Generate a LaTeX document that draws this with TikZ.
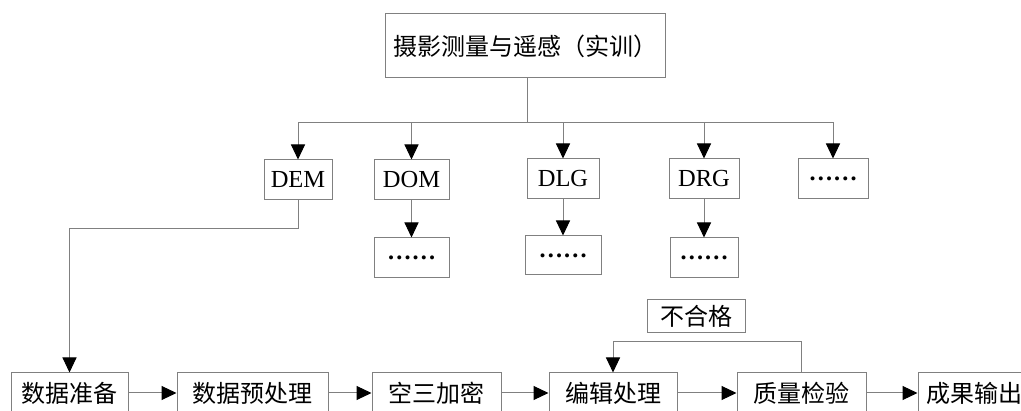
\documentclass[tikz,border=0pt]{standalone}
\usepackage{fontspec}
\setmainfont{Liberation Serif}
\newfontfamily\cjk{Noto Sans CJK SC}
\usetikzlibrary{arrows.meta}
\begin{document}
\begin{tikzpicture}[x=1pt,y=-1pt,
  box/.style={draw=black!50, line width=1pt, inner sep=0pt, font=\fontsize{24.5}{24.5}\selectfont},
  cbox/.style={box, font=\cjk\fontsize{24}{24}\selectfont},
  ln/.style={draw=black!50, line width=1pt},
  arr/.style={ln, -{Triangle[length=15pt,width=14pt,color=black]}}]
\useasboundingbox (0,0) rectangle (1021,411);
\clip (0,0) rectangle (1021,411);
\node[cbox, minimum width=280pt, minimum height=64pt] (top) at (525,46) {摄影测量与遥感（实训）};
\node[box, minimum width=68pt, minimum height=40pt] (dem) at (298,180) {DEM};
\node[box, minimum width=75pt, minimum height=40pt] (dom) at (411.5,180) {DOM};
\node[box, minimum width=72pt, minimum height=40pt] (dlg) at (563,179) {DLG};
\node[box, minimum width=70pt, minimum height=40pt] (drg) at (704,179) {DRG};
\node[box, minimum width=70pt, minimum height=40pt] (etc) at (833,179) {\textbf{……}};
\node[box, minimum width=75pt, minimum height=40pt] (domd) at (411.5,258) {\textbf{……}};
\node[box, minimum width=76pt, minimum height=39pt] (dlgd) at (563,255.5) {\textbf{……}};
\node[box, minimum width=68pt, minimum height=40pt] (drgd) at (704,258) {\textbf{……}};
\node[cbox, minimum width=117pt, minimum height=40pt] (p1) at (69.5,393) {数据准备};
\node[cbox, minimum width=151pt, minimum height=40pt] (p2) at (252.5,393) {数据预处理};
\node[cbox, minimum width=129pt, minimum height=40pt] (p3) at (436.5,393) {空三加密};
\node[cbox, minimum width=128pt, minimum height=40pt] (p4) at (613,393) {编辑处理};
\node[cbox, minimum width=129pt, minimum height=40pt] (p5) at (801.5,393) {质量检验};
\node[cbox, minimum width=112pt, minimum height=40pt] (p6) at (974,393) {成果输出};
\node[cbox, minimum width=98pt, minimum height=33pt] (ng) at (696,316.5) {不合格};
\coordinate (bus) at (527,123);
\draw[ln] (top.south -| bus) -- (bus);
\draw[arr] (bus) -| (dem.north);
\draw[arr] (bus) -| (dom.north);
\draw[arr] (bus) -| (dlg.north);
\draw[arr] (bus) -| (drg.north);
\draw[arr] (bus) -| (etc.north);
\draw[arr] (dom) -- (domd);
\draw[arr] (dlg) -- (dlgd);
\draw[arr] (drg) -- (drgd);
\draw[arr] (dem.south) -- ++(0,28) -| (p1.north);
\draw[arr] (p1) -- (p2);
\draw[arr] (p2) -- (p3);
\draw[arr] (p3) -- (p4);
\draw[arr] (p4) -- (p5);
\draw[arr] (p5) -- (p6);
\draw[arr] (p5.north) -- ++(0,-31) -| (p4.north);
\end{tikzpicture}
\end{document}
